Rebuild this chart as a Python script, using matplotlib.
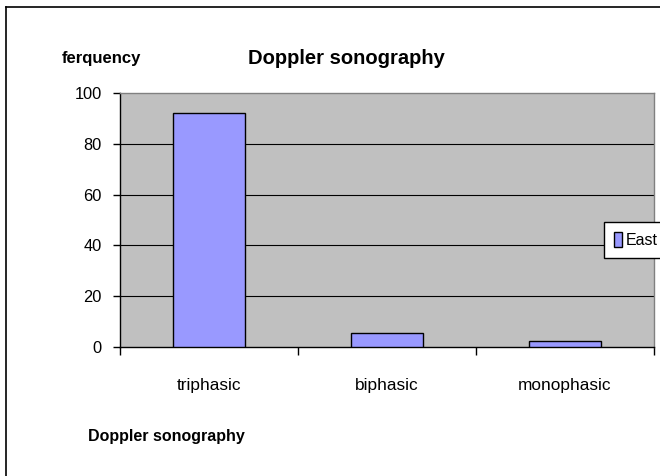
import matplotlib
matplotlib.use("Agg")
import matplotlib.pyplot as plt
from matplotlib.lines import Line2D

categories = ["triphasic", "biphasic", "monophasic"]
values = [92, 5.5, 2.5]
series_name = "East"
y_ticks = [0, 20, 40, 60, 80, 100]

plt.rcParams['font.family'] = ['Liberation Sans', 'DejaVu Sans']

W, H = 660, 476
fig = plt.figure(figsize=(W / 100, H / 100), dpi=100)

# plot area in pixels: x 120..654, y 93..347
l, r, t, b = 120, 654, 93, 347
ax = fig.add_axes([l / W, 1 - b / H, (r - l) / W, (b - t) / H])
ax.set_facecolor('#c0c0c0')

x = list(range(len(categories)))
ax.bar(x, values, width=0.4, color='#9999ff', edgecolor='black', linewidth=1, zorder=3,
       label=series_name)
ax.set_xlim(-0.5, len(categories) - 0.5)
ax.set_ylim(0, 100)
ax.set_yticks(y_ticks)
ax.set_yticklabels([str(v) for v in y_ticks], fontsize=11.8)
for v in y_ticks[1:-1]:
    ax.axhline(v, color='black', linewidth=0.8, zorder=1)

ax.set_xticks([i - 0.5 for i in range(len(categories) + 1)])
ax.set_xticklabels([])
ax.set_xticks(x, minor=True)
ax.set_xticklabels(categories, minor=True, fontsize=12.4)
ax.tick_params(axis='x', which='major', direction='out', length=6, width=1, color='black')
ax.tick_params(axis='x', which='minor', length=0, pad=22)
ax.tick_params(axis='y', direction='out', length=5, width=1, pad=8)

for side in ['top', 'right']:
    ax.spines[side].set_color('#808080')
    ax.spines[side].set_linewidth(1)
for side in ['left', 'bottom']:
    ax.spines[side].set_color('black')
    ax.spines[side].set_linewidth(1)

leg = ax.legend(loc='upper left', bbox_to_anchor=((604 - l) / (r - l), (b - 222) / (b - t)),
                fontsize=11.5, frameon=True, fancybox=False, edgecolor='black',
                facecolor='white', framealpha=1,
                handlelength=0.45, handleheight=1.0, handletextpad=0.25,
                borderpad=0.65, borderaxespad=0)
leg.get_frame().set_linewidth(1)
leg.set_clip_on(False)

fig.text(248 / W, 1 - 58 / H, "Doppler sonography", fontsize=14.5, fontweight='bold',
         ha='left', va='center')
fig.text(62 / W, 1 - 59 / H, "ferquency", fontsize=12, fontweight='bold',
         ha='left', va='center')
fig.text(88 / W, 1 - 437 / H, "Doppler sonography", fontsize=11.5, fontweight='bold',
         ha='left', va='center')

# outer frame (left and top edges visible)
fig.add_artist(Line2D([6 / W, 6 / W], [0, 1 - 7 / H], transform=fig.transFigure,
                      color='black', linewidth=1.2))
fig.add_artist(Line2D([6 / W, 1], [1 - 7 / H, 1 - 7 / H], transform=fig.transFigure,
                      color='black', linewidth=1.2))

fig.savefig("out.png", dpi=100)
